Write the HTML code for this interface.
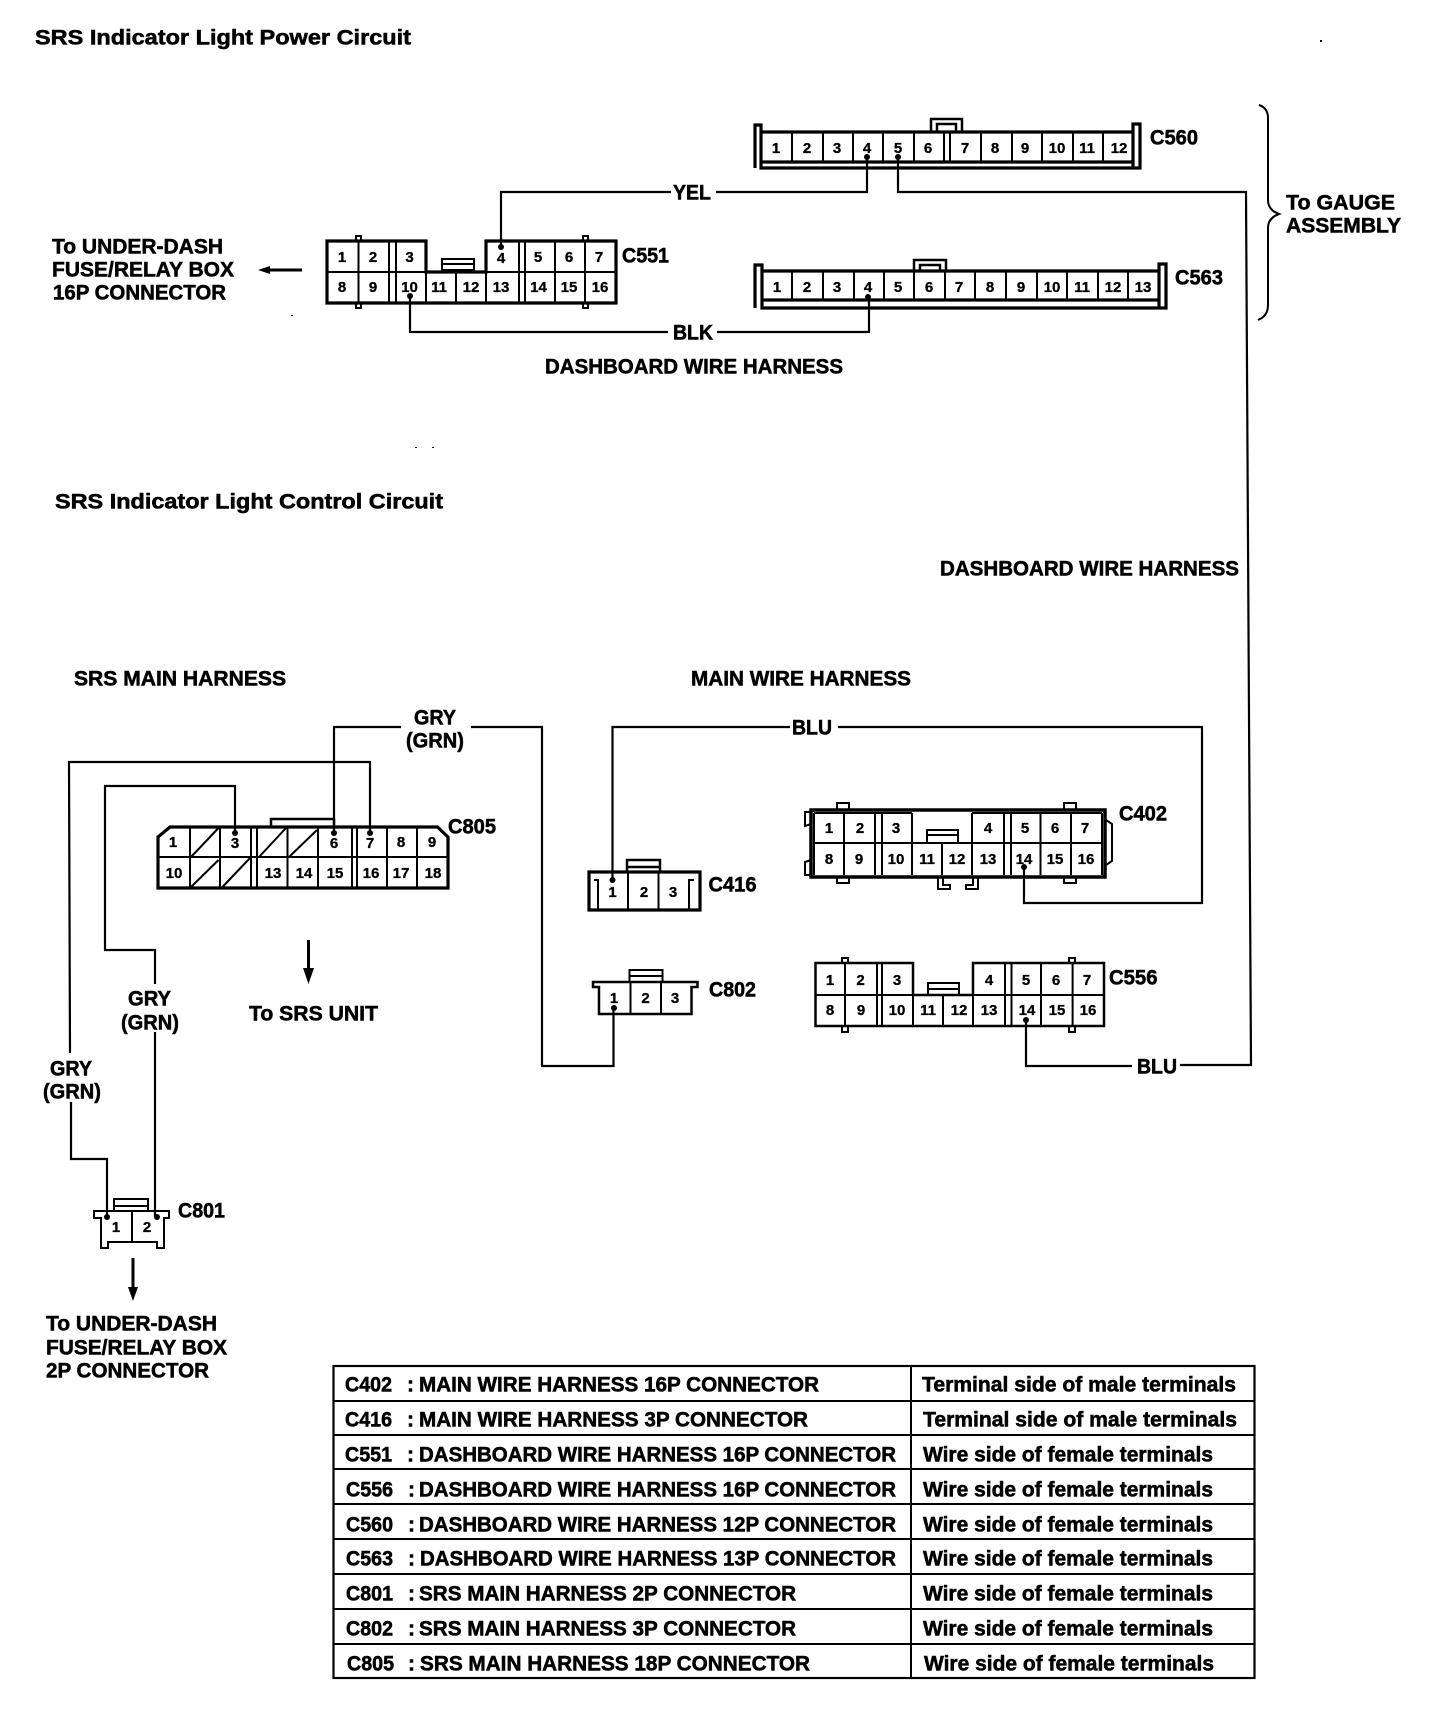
<!DOCTYPE html>
<html><head><meta charset="utf-8"><title>SRS Indicator Light Circuits</title>
<style>
html,body{margin:0;padding:0;background:#fff}
svg{display:block}
text{font-family:"Liberation Sans",sans-serif;font-weight:bold;fill:#000}
.l{font-size:21.5px;stroke:#000;stroke-width:.55;transform:translateY(.5px)}
.t{font-size:21px;stroke:#000;stroke-width:.55;transform:translateY(.5px)}
.n{font-size:15px;text-anchor:middle;stroke:#000;stroke-width:.3}
.w{fill:none;stroke:#000;stroke-width:2.2}
.c{fill:none;stroke:#000;stroke-width:2}
.h{fill:none;stroke:#000;stroke-width:3.2}
</style></head><body>
<svg width="1456" height="1718" viewBox="0 0 1456 1718" xmlns="http://www.w3.org/2000/svg">
<rect width="1456" height="1718" fill="#fff"/>

<!-- Headings -->
<text class="l" x="35" y="44" textLength="376" lengthAdjust="spacingAndGlyphs">SRS Indicator Light Power Circuit</text>
<text class="l" x="55" y="508" textLength="388" lengthAdjust="spacingAndGlyphs">SRS Indicator Light Control Circuit</text>
<rect x="1320" y="40" width="2" height="2"/><rect x="291" y="315" width="2" height="1"/><rect x="415" y="447" width="2" height="1"/><rect x="432" y="447" width="2" height="1"/>

<!-- Wires: power circuit -->
<path class="w" d="M501 245V192H671M716 192H867V157"/>
<path class="w" d="M898 157V192H1246L1251 1065H1180"/>
<path class="w" d="M410 296V332H668M717 332H869V297"/>
<g><circle cx="867" cy="157" r="3"/><circle cx="898" cy="157" r="3"/><circle cx="868" cy="297" r="3"/><circle cx="501" cy="247" r="3"/><circle cx="410" cy="296" r="3"/></g>
<text class="l" x="673" y="199" textLength="38" lengthAdjust="spacingAndGlyphs">YEL</text>
<text class="l" x="673" y="339" textLength="40" lengthAdjust="spacingAndGlyphs">BLK</text>
<text class="l" x="545" y="373" textLength="298" lengthAdjust="spacingAndGlyphs">DASHBOARD WIRE HARNESS</text>
<text class="l" x="940" y="575" textLength="299" lengthAdjust="spacingAndGlyphs">DASHBOARD WIRE HARNESS</text>

<!-- To under-dash top -->
<text class="l" x="52" y="253" textLength="171" lengthAdjust="spacingAndGlyphs">To UNDER-DASH</text>
<text class="l" x="52" y="276" textLength="182" lengthAdjust="spacingAndGlyphs">FUSE/RELAY BOX</text>
<text class="l" x="53" y="299" textLength="173" lengthAdjust="spacingAndGlyphs">16P CONNECTOR</text>
<path d="M302 268.500H270V266L258 270L270 274V271.500H302Z"/>

<!-- C551 -->
<g transform="translate(1,0)">
<path class="h" d="M326 303V241H425V272H485V241H615V303Z"/>
<path class="c" d="M326 272H425M485 272H615M357.500 241V303M388 241V303M395 241V303M425 272V303M455 272V303M485 241V303M518 241V303M524 241V303M554 241V303M584 241V303"/>
<rect x="441" y="259" width="32" height="11" fill="#fff" stroke="#000" stroke-width="2"/><path class="c" d="M441 264H473"/>
<path class="c" d="M355 241V236H360V241M355 303V308H360V303M582 241V236H587V241M582 303V308H587V303"/>
</g>
<g>
<text class="n" x="342" y="262">1</text><text class="n" x="373" y="262">2</text><text class="n" x="409.500" y="262">3</text><text class="n" x="501" y="263">4</text><text class="n" x="538" y="262">5</text><text class="n" x="569" y="262">6</text><text class="n" x="599" y="262">7</text>
<text class="n" x="342" y="292">8</text><text class="n" x="373" y="292">9</text><text class="n" x="409.500" y="292">10</text><text class="n" x="439" y="292">11</text><text class="n" x="471" y="292">12</text><text class="n" x="501" y="292">13</text><text class="n" x="538.500" y="292">14</text><text class="n" x="569" y="292">15</text><text class="n" x="600" y="292">16</text>
</g>
<text class="l" x="622" y="262" textLength="47" lengthAdjust="spacingAndGlyphs">C551</text>

<!-- C560 -->
<path class="h" d="M755 168V125H761V168H1140V124H1133V168M761 132H1133M761 162H1133"/>
<path class="c" d="M792 132V162M823 132V162M853 132V162M883 132V162M914 132V162M944 132V162M950 132V162M981 132V162M1012 132V162M1042 132V162M1073 132V162M1103 132V162"/>
<path class="c" style="stroke-width:2.500" d="M931 132V119H962V132M937 132V124H956V132"/>
<g>
<text class="n" x="776" y="153">1</text><text class="n" x="807" y="153">2</text><text class="n" x="837" y="153">3</text><text class="n" x="867" y="153">4</text><text class="n" x="898" y="153">5</text><text class="n" x="928" y="153">6</text><text class="n" x="965" y="153">7</text><text class="n" x="995" y="153">8</text><text class="n" x="1025" y="153">9</text><text class="n" x="1057" y="153">10</text><text class="n" x="1087" y="153">11</text><text class="n" x="1119" y="153">12</text>
</g>
<text class="l" x="1150" y="144" textLength="48" lengthAdjust="spacingAndGlyphs">C560</text>

<!-- C563 -->
<path class="h" d="M755 308V265H762V308H1166V264H1159V308M762 271H1159M762 300H1159"/>
<path class="c" d="M792 271V300M823 271V300M854 271V300M884 271V300M914 271V300M945 271V300M975 271V300M1006 271V300M1037 271V300M1067 271V300M1098 271V300M1128 271V300"/>
<path class="c" style="stroke-width:2.500" d="M914 271V260H946V271M920 271V265H940V271"/>
<g>
<text class="n" x="777" y="292">1</text><text class="n" x="807" y="292">2</text><text class="n" x="837" y="292">3</text><text class="n" x="868" y="292">4</text><text class="n" x="898" y="292">5</text><text class="n" x="929" y="292">6</text><text class="n" x="959" y="292">7</text><text class="n" x="990" y="292">8</text><text class="n" x="1021" y="292">9</text><text class="n" x="1052" y="292">10</text><text class="n" x="1082" y="292">11</text><text class="n" x="1113" y="292">12</text><text class="n" x="1143" y="292">13</text>
</g>
<text class="l" x="1175" y="284" textLength="48" lengthAdjust="spacingAndGlyphs">C563</text>

<!-- Brace -->
<path class="c" d="M1259 105Q1268 108 1268 118V200Q1268 210 1279 214Q1268 218 1268 228V305Q1268 316 1258 320"/>
<text class="l" x="1286" y="209" textLength="109" lengthAdjust="spacingAndGlyphs">To GAUGE</text>
<text class="l" x="1286" y="232" textLength="115" lengthAdjust="spacingAndGlyphs">ASSEMBLY</text>

<!-- Control circuit labels -->
<text class="l" x="74" y="685" textLength="212" lengthAdjust="spacingAndGlyphs">SRS MAIN HARNESS</text>
<text class="l" x="691" y="685" textLength="220" lengthAdjust="spacingAndGlyphs">MAIN WIRE HARNESS</text>

<!-- Wires: C805 -->
<path class="w" d="M334 833V727H401M471 727H542V1066H613.500V1008"/>
<path class="w" d="M370 833V762H69L70 1053M71 1102V1159H107V1217"/>
<path class="w" d="M235 833V786H105V950H155V984M155 1032V1217"/>
<text class="l" x="414" y="724" textLength="42" lengthAdjust="spacingAndGlyphs">GRY</text>
<text class="l" x="406" y="747" textLength="58" lengthAdjust="spacingAndGlyphs">(GRN)</text>
<text class="l" x="128" y="1005" textLength="43" lengthAdjust="spacingAndGlyphs">GRY</text>
<text class="l" x="121" y="1029" textLength="58" lengthAdjust="spacingAndGlyphs">(GRN)</text>
<text class="l" x="50" y="1075" textLength="42" lengthAdjust="spacingAndGlyphs">GRY</text>
<text class="l" x="43" y="1098" textLength="58" lengthAdjust="spacingAndGlyphs">(GRN)</text>

<!-- C805 -->
<path class="h" d="M158 888V837L170 827H437.500L448 837V888Z"/>
<path class="c" d="M158 857H448M190 827V888M220 827V888M251 827V888M257 827V888M287.500 827V888M318 827V888M352 827V888M357 827V888M387 827V888M417 827V888"/>
<path class="c" d="M191 857L218.500 828M191 887L218.500 860M221.500 888L250 858M259 857L286 828M289 857L317 830"/>
<path class="c" style="stroke-width:2.500" d="M271 827V819H334V827"/>
<circle cx="235" cy="833" r="3"/><circle cx="334" cy="833" r="3"/><circle cx="370" cy="833" r="3"/>
<g>
<text class="n" x="173" y="847">1</text><text class="n" x="235" y="848">3</text><text class="n" x="334" y="848">6</text><text class="n" x="370" y="848">7</text><text class="n" x="401" y="847">8</text><text class="n" x="432" y="847">9</text>
<text class="n" x="174" y="878">10</text><text class="n" x="273" y="878">13</text><text class="n" x="304" y="878">14</text><text class="n" x="335" y="878">15</text><text class="n" x="371" y="878">16</text><text class="n" x="401" y="878">17</text><text class="n" x="433" y="878">18</text>
</g>
<text class="l" x="448" y="833" textLength="48" lengthAdjust="spacingAndGlyphs">C805</text>
<path d="M307 940H310V968H314L308.500 984L303 968H307Z"/>
<text class="l" x="249" y="1020" textLength="129" lengthAdjust="spacingAndGlyphs">To SRS UNIT</text>

<!-- C801 -->
<path class="c" d="M101 1218H94V1211H169V1218H164V1248H157V1242H108V1248H101Z"/>
<path class="c" d="M132 1211V1242M114 1210V1199H148V1210M114 1206H148"/>
<circle cx="107" cy="1217" r="3"/><circle cx="157" cy="1217" r="3"/>
<text class="n" x="116" y="1232">1</text><text class="n" x="147" y="1232">2</text>
<text class="l" x="178" y="1217" textLength="47" lengthAdjust="spacingAndGlyphs">C801</text>
<path d="M131.500 1258H134.500V1287H138L133 1301L128 1287H131.500Z"/>
<text class="l" x="46" y="1330" textLength="171" lengthAdjust="spacingAndGlyphs">To UNDER-DASH</text>
<text class="l" x="46" y="1354" textLength="181" lengthAdjust="spacingAndGlyphs">FUSE/RELAY BOX</text>
<text class="l" x="46" y="1377" textLength="163" lengthAdjust="spacingAndGlyphs">2P CONNECTOR</text>

<!-- BLU wires -->
<path class="w" d="M612.500 880V727H790M838 727H1202V903H1024V867"/>
<path class="w" d="M1026 1020V1066H1132"/>
<text class="l" x="792" y="734" textLength="40" lengthAdjust="spacingAndGlyphs">BLU</text>
<text class="l" x="1137" y="1073" textLength="40" lengthAdjust="spacingAndGlyphs">BLU</text>

<!-- C416 -->
<path class="h" d="M589 910V872H700V910Z"/>
<path class="c" d="M598 910V880H594M628 872V910M658.500 872V910M689 910V880H694"/>
<path class="c" style="stroke-width:2.500" d="M627 872V860H660V872M627 867H660"/>
<circle cx="612.500" cy="880" r="3"/>
<text class="n" x="612.500" y="897">1</text><text class="n" x="644" y="897">2</text><text class="n" x="673" y="897">3</text>
<text class="l" x="708.500" y="891" textLength="48" lengthAdjust="spacingAndGlyphs">C416</text>

<!-- C802 -->
<path class="c" style="stroke-width:2.500" d="M599 987H593V982H697.500V987H691.500V1014H599Z"/>
<path class="c" d="M630.500 982V1014M661 982V1014M629.500 982V970H662.500V982M629.500 976H662.500"/>
<circle cx="614" cy="1008" r="3"/>
<text class="n" x="614" y="1003">1</text><text class="n" x="645.600" y="1003">2</text><text class="n" x="675" y="1003">3</text>
<text class="l" x="709" y="996" textLength="47" lengthAdjust="spacingAndGlyphs">C802</text>

<!-- C402 -->
<rect x="811" y="810" width="294" height="67" fill="none" stroke="#000" stroke-width="3.500"/>
<path class="c" d="M814 843H1102M814 813H912M972 813H1102M814 813V875M844 813V875M875 813V875M882 813V875M912 813V875M942 843V875M972 813V875M1004 813V875M1011 813V875M1040.500 813V875M1071 813V875M1102 813V875"/>
<path class="c" d="M927 842V830H958V842M927 835H958"/>
<path class="c" d="M837 809V803H849V809M837 877V883H849V877M1064 809V803H1076V809M1064 877V883H1076V877"/>
<path class="c" d="M811 812H805V826L811 824M811 860L805 862V875H811M1106 820L1112 824V861L1106 865"/>
<path class="c" d="M938 877V889H950V885H943V877M978 877V889H966V885H973V877"/>
<circle cx="1024" cy="867" r="3"/>
<g>
<text class="n" x="829" y="833">1</text><text class="n" x="860" y="833">2</text><text class="n" x="896" y="833">3</text><text class="n" x="988" y="833">4</text><text class="n" x="1025" y="833">5</text><text class="n" x="1055" y="833">6</text><text class="n" x="1085" y="833">7</text>
<text class="n" x="829" y="864">8</text><text class="n" x="859" y="864">9</text><text class="n" x="896" y="864">10</text><text class="n" x="927" y="864">11</text><text class="n" x="957" y="864">12</text><text class="n" x="988" y="864">13</text><text class="n" x="1024" y="864">14</text><text class="n" x="1055" y="864">15</text><text class="n" x="1086" y="864">16</text>
</g>
<text class="l" x="1119" y="820" textLength="48" lengthAdjust="spacingAndGlyphs">C402</text>

<!-- C556 -->
<path class="c" style="stroke-width:2.500" d="M815.500 1026V963H913V995H973V963H1104V1026Z"/>
<path class="c" d="M815.500 995H913M973 995H1104M845 963V1026M877 963V1026M882 963V1026M913 995V1026M943 995V1026M973 963V1026M1005 963V1026M1011.500 963V1026M1041 963V1026M1072.600 963V1026"/>
<path class="c" d="M928 994V983H959V994M928 989H959"/>
<path class="c" d="M842 963V958H848V963M842 1026V1032H848V1026M1069 963V958H1075V963M1069 1026V1032H1075V1026"/>
<circle cx="1026" cy="1020" r="3"/>
<g>
<text class="n" x="830" y="985">1</text><text class="n" x="860.500" y="985">2</text><text class="n" x="897" y="985">3</text><text class="n" x="989" y="985">4</text><text class="n" x="1026" y="985">5</text><text class="n" x="1056" y="985">6</text><text class="n" x="1087" y="985">7</text>
<text class="n" x="830" y="1015">8</text><text class="n" x="861" y="1015">9</text><text class="n" x="897" y="1015">10</text><text class="n" x="928" y="1015">11</text><text class="n" x="959" y="1015">12</text><text class="n" x="989" y="1015">13</text><text class="n" x="1027" y="1015">14</text><text class="n" x="1057" y="1015">15</text><text class="n" x="1088" y="1015">16</text>
</g>
<text class="l" x="1109" y="984" textLength="48.500" lengthAdjust="spacingAndGlyphs">C556</text>

<!-- Table -->
<rect x="333.500" y="1366" width="921" height="312" fill="none" stroke="#000" stroke-width="2.200"/>
<path class="c" d="M911 1366V1678M333.500 1401H1254M333.500 1435H1254M333.500 1469H1254M333.500 1504H1254M333.500 1539H1254M333.500 1574H1254M333.500 1609H1254M333.500 1644H1254"/>
<g>
<text class="t" x="345" y="1391" textLength="47" lengthAdjust="spacingAndGlyphs">C402</text><text class="t" x="407" y="1391">:</text><text class="t" x="419" y="1391" textLength="400" lengthAdjust="spacingAndGlyphs">MAIN WIRE HARNESS 16P CONNECTOR</text><text class="t" x="922" y="1391" textLength="314" lengthAdjust="spacingAndGlyphs">Terminal side of male terminals</text>
<text class="t" x="345" y="1426" textLength="47" lengthAdjust="spacingAndGlyphs">C416</text><text class="t" x="407" y="1426">:</text><text class="t" x="419" y="1426" textLength="389" lengthAdjust="spacingAndGlyphs">MAIN WIRE HARNESS 3P CONNECTOR</text><text class="t" x="923" y="1426" textLength="314" lengthAdjust="spacingAndGlyphs">Terminal side of male terminals</text>
<text class="t" x="345" y="1461" textLength="47" lengthAdjust="spacingAndGlyphs">C551</text><text class="t" x="407" y="1461">:</text><text class="t" x="419" y="1461" textLength="477" lengthAdjust="spacingAndGlyphs">DASHBOARD WIRE HARNESS 16P CONNECTOR</text><text class="t" x="923" y="1461" textLength="290" lengthAdjust="spacingAndGlyphs">Wire side of female terminals</text>
<text class="t" x="346" y="1496" textLength="47" lengthAdjust="spacingAndGlyphs">C556</text><text class="t" x="408" y="1496">:</text><text class="t" x="419" y="1496" textLength="477" lengthAdjust="spacingAndGlyphs">DASHBOARD WIRE HARNESS 16P CONNECTOR</text><text class="t" x="923" y="1496" textLength="290" lengthAdjust="spacingAndGlyphs">Wire side of female terminals</text>
<text class="t" x="346" y="1531" textLength="47" lengthAdjust="spacingAndGlyphs">C560</text><text class="t" x="408" y="1531">:</text><text class="t" x="419" y="1531" textLength="477" lengthAdjust="spacingAndGlyphs">DASHBOARD WIRE HARNESS 12P CONNECTOR</text><text class="t" x="923" y="1531" textLength="290" lengthAdjust="spacingAndGlyphs">Wire side of female terminals</text>
<text class="t" x="346" y="1565" textLength="47" lengthAdjust="spacingAndGlyphs">C563</text><text class="t" x="408" y="1565">:</text><text class="t" x="420" y="1565" textLength="476" lengthAdjust="spacingAndGlyphs">DASHBOARD WIRE HARNESS 13P CONNECTOR</text><text class="t" x="923" y="1565" textLength="290" lengthAdjust="spacingAndGlyphs">Wire side of female terminals</text>
<text class="t" x="346" y="1600" textLength="47" lengthAdjust="spacingAndGlyphs">C801</text><text class="t" x="408" y="1600">:</text><text class="t" x="419" y="1600" textLength="377" lengthAdjust="spacingAndGlyphs">SRS MAIN HARNESS 2P CONNECTOR</text><text class="t" x="923" y="1600" textLength="290" lengthAdjust="spacingAndGlyphs">Wire side of female terminals</text>
<text class="t" x="346" y="1635" textLength="47" lengthAdjust="spacingAndGlyphs">C802</text><text class="t" x="408" y="1635">:</text><text class="t" x="419" y="1635" textLength="377" lengthAdjust="spacingAndGlyphs">SRS MAIN HARNESS 3P CONNECTOR</text><text class="t" x="923" y="1635" textLength="290" lengthAdjust="spacingAndGlyphs">Wire side of female terminals</text>
<text class="t" x="347" y="1670" textLength="47" lengthAdjust="spacingAndGlyphs">C805</text><text class="t" x="408" y="1670">:</text><text class="t" x="420" y="1670" textLength="390" lengthAdjust="spacingAndGlyphs">SRS MAIN HARNESS 18P CONNECTOR</text><text class="t" x="924" y="1670" textLength="290" lengthAdjust="spacingAndGlyphs">Wire side of female terminals</text>
</g>
</svg>
</body></html>
